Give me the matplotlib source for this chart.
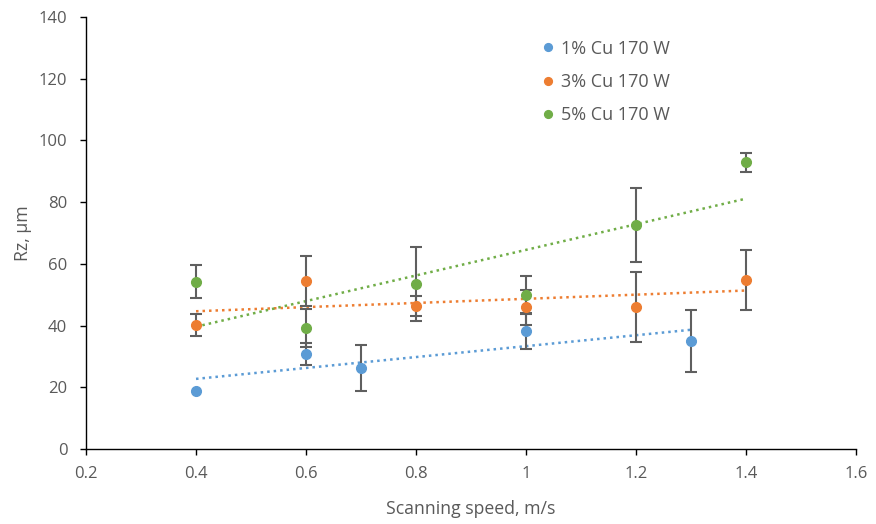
import numpy as np
import matplotlib
matplotlib.use("Agg")
import matplotlib.pyplot as plt

plt.rcParams['font.family'] = ['Open Sans', 'DejaVu Sans']

labels = ["1% Cu 170 W", "3% Cu 170 W", "5% Cu 170 W"]
colors = ["#5B9BD5", "#ED7D31", "#70AD47"]

x1 = [0.4, 0.6, 0.7, 1.0, 1.3]
y1 = [18.8, 30.8, 26.2, 38.2, 35.0]
e1 = [0.0, 3.7, 7.5, 5.7, 10.0]

x3 = [0.4, 0.6, 0.8, 1.0, 1.2, 1.4]
y3 = [40.2, 54.6, 46.4, 45.9, 46.1, 54.8]
e3 = [3.5, 8.1, 3.3, 5.7, 11.3, 9.7]

x5 = [0.4, 0.6, 0.8, 1.0, 1.2, 1.4]
y5 = [54.2, 39.1, 53.5, 50.0, 72.6, 92.9]
e5 = [5.4, 6.2, 12.0, 6.0, 12.0, 3.1]

series = [(x1, y1, e1), (x3, y3, e3), (x5, y5, e5)]

fig = plt.figure(figsize=(8.76, 5.24), dpi=100)
ax = fig.add_axes([0.0982, 0.1431, 0.879, 0.8245])

txt = "#595959"
for (xs, ys, es), c, lab in zip(series, colors, labels):
    xs = np.array(xs); ys = np.array(ys); es = np.array(es)
    m = es > 0
    ax.errorbar(xs[m], ys[m], yerr=es[m], fmt='none', ecolor="#5f5f5f", elinewidth=1.5,
                capsize=4, capthick=1.5, zorder=2)
    ax.plot(xs, ys, 'o', color=c, markersize=7, label=lab, zorder=3)
    k, b = np.polyfit(xs, ys, 1)
    xx = np.array([xs.min(), xs.max()])
    ax.plot(xx, k * xx + b, linestyle=(0, (1, 1.6)), color=c, linewidth=1.8, zorder=1)

ax.set_xlim(0.2, 1.6)
ax.set_ylim(0, 140)
ax.set_xticks(np.arange(0.2, 1.61, 0.2))
ax.set_xticklabels(["0.2", "0.4", "0.6", "0.8", "1", "1.2", "1.4", "1.6"])
ax.set_yticks(np.arange(0, 141, 20))
for s in ["top", "right"]:
    ax.spines[s].set_visible(False)
for s in ["left", "bottom"]:
    ax.spines[s].set_color("black")
    ax.spines[s].set_linewidth(1.0)
ax.tick_params(axis='both', direction='out', length=4.5, width=1, colors="black",
               labelcolor=txt, labelsize=12)
ax.tick_params(axis='x', pad=8)
ax.tick_params(axis='y', pad=9)
ax.set_xlabel("Scanning speed, m/s", color=txt, fontsize=12.7, labelpad=12.5)
ax.set_ylabel("Rz, µm", color=txt, fontsize=12.7, labelpad=5)

leg = ax.legend(loc='upper left', bbox_to_anchor=(0.565, 0.985), frameon=False,
                fontsize=13, handletextpad=0.1, labelspacing=0.85, markerscale=0.8,
                handlelength=1.2, labelcolor=txt)

fig.savefig("out.png", dpi=100)
